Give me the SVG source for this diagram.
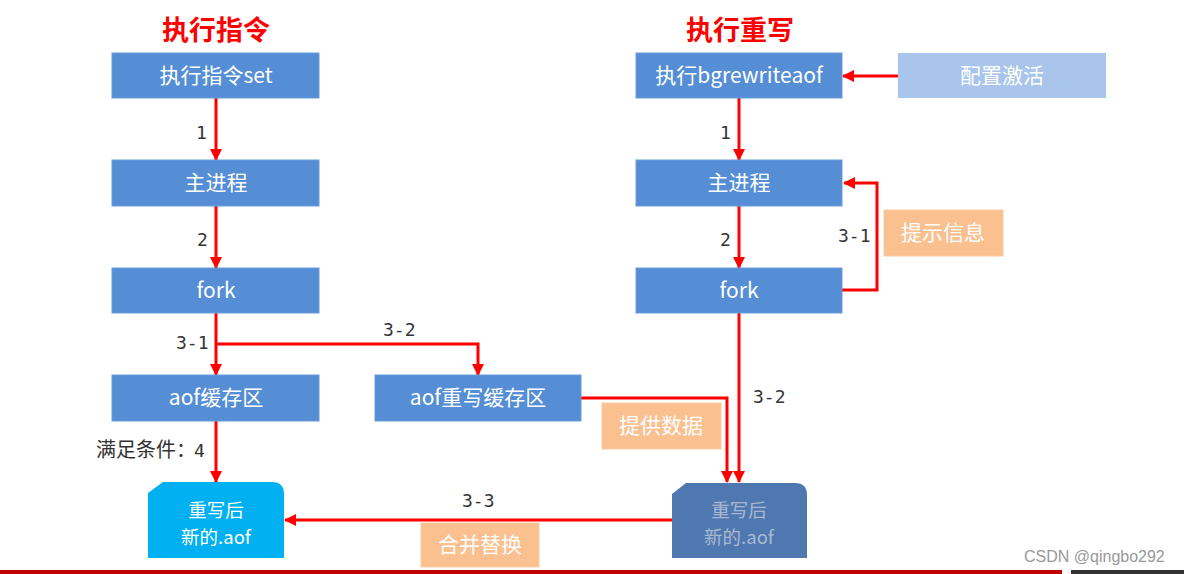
<svg xmlns="http://www.w3.org/2000/svg" width="1184" height="574" viewBox="0 0 1184 574">
<defs>
<marker id="ah" viewBox="0 0 12 12" refX="11" refY="6" markerWidth="12" markerHeight="12" markerUnits="userSpaceOnUse" orient="auto">
<path d="M0,0 L12,6 L0,12 z" fill="#FF0000"/>
</marker>
<style>
.box{fill:#558ED5;stroke:#6A9BDB;stroke-width:1}
.t{font-family:"Noto Sans CJK SC","Microsoft YaHei",sans-serif;font-size:21px;fill:#FFFFFF;text-anchor:middle}
.d{font-family:"Noto Sans CJK SC","Microsoft YaHei",sans-serif;font-size:18.5px;text-anchor:middle}
.title{font-family:"Noto Sans CJK SC",sans-serif;font-size:27px;font-weight:bold;fill:#FF0000;text-anchor:middle}
.lbl{font-family:"DejaVu Sans Mono","Liberation Mono",monospace;font-size:18px;fill:#333333}
.cj{font-family:"Noto Sans CJK SC",sans-serif;font-size:20px;fill:#333333}
.orange{fill:#FAC090;stroke:#F8CBA4;stroke-width:1}
.ca{fill:none;stroke:#FF0000;stroke-width:3;marker-end:url(#ah)}
</style>
</defs>
<rect width="1184" height="574" fill="#FFFFFF"/>

<text class="title" x="216" y="40">执行指令</text>
<text class="title" x="740" y="40">执行重写</text>

<g id="connectors">
<path class="ca" d="M216,98 V160"/>
<path class="ca" d="M216,206 V268"/>
<path class="ca" d="M216,313 V375"/>
<path class="ca" d="M216,344 H478 V375"/>
<path class="ca" d="M216,421 V482"/>
<path class="ca" d="M898,76 H843"/>
<path class="ca" d="M739,98 V160"/>
<path class="ca" d="M739,206 V268"/>
<path class="ca" d="M842,290 H877 V183 H844"/>
<path class="ca" d="M739,313 V482"/>
<path class="ca" d="M581,398 H727 V482"/>
<path class="ca" d="M672,520 H285"/>
<text class="lbl" x="196" y="139">1</text>
<text class="lbl" x="197" y="246">2</text>
<text class="lbl" x="176" y="349">3-1</text>
<text class="lbl" x="383" y="336">3-2</text>
<text class="cj" x="96" y="457">满足条件：<tspan class="lbl" dx="-2">4</tspan></text>
<text class="lbl" x="720" y="139">1</text>
<text class="lbl" x="720" y="246">2</text>
<text class="lbl" x="838" y="242">3-1</text>
<text class="lbl" x="753" y="403">3-2</text>
<text class="lbl" x="462" y="507">3-3</text>
</g>

<g id="n-set"><rect class="box" x="112" y="53" width="207" height="45"/><text class="t" x="216" y="83">执行指令set</text></g>
<g id="n-main-l"><rect class="box" x="112" y="160" width="207" height="46"/><text class="t" x="216" y="190">主进程</text></g>
<g id="n-fork-l"><rect class="box" x="112" y="268" width="207" height="45"/><text class="t" x="216" y="298">fork</text></g>
<g id="n-aofbuf"><rect class="box" x="112" y="375" width="207" height="46"/><text class="t" x="216" y="405">aof缓存区</text></g>
<g id="n-rewritebuf"><rect class="box" x="375" y="375" width="206" height="46"/><text class="t" x="478" y="405">aof重写缓存区</text></g>
<g id="n-newaof-l"><path d="M163,482 H272 Q284,482 284,494 V558 H148 V493 Z" fill="#00B0F0"/><text class="d" fill="#FFFFFF"><tspan x="216" y="517">重写后</tspan><tspan x="216" y="544">新的.aof</tspan></text></g>

<g id="n-bgrewrite"><rect class="box" x="636" y="53" width="206" height="45"/><text class="t" x="739" y="83">执行bgrewriteaof</text></g>
<g id="n-config"><rect x="898" y="53" width="208" height="45" fill="#A9C5EB"/><text class="t" x="1002" y="83" fill="#F4F7FC">配置激活</text></g>
<g id="n-main-r"><rect class="box" x="636" y="160" width="206" height="46"/><text class="t" x="739" y="190">主进程</text></g>
<g id="n-fork-r"><rect class="box" x="636" y="268" width="206" height="45"/><text class="t" x="739" y="298">fork</text></g>
<g id="n-hint"><rect class="orange" x="884" y="210" width="119" height="46"/><text class="t" x="943" y="240">提示信息</text></g>
<g id="n-provide"><rect class="orange" x="602" y="403" width="119" height="46"/><text class="t" x="661" y="433">提供数据</text></g>
<g id="n-merge"><rect class="orange" x="421" y="523" width="118" height="44"/><text class="t" x="480" y="552">合并替换</text></g>
<g id="n-newaof-r"><path d="M686,483 H795 Q807,483 807,495 V558 H672 V494 Z" fill="#5078B0"/><text class="d" fill="#A9B8D0"><tspan x="739" y="517">重写后</tspan><tspan x="739" y="544">新的.aof</tspan></text></g>

<rect x="0" y="570" width="1062" height="4" fill="#C00000"/>
<rect x="1071" y="570" width="113" height="4" fill="#333333"/>
<text x="1024" y="562" font-family="Liberation Sans, sans-serif" font-size="16" fill="#999999">CSDN @qingbo292</text>
</svg>
